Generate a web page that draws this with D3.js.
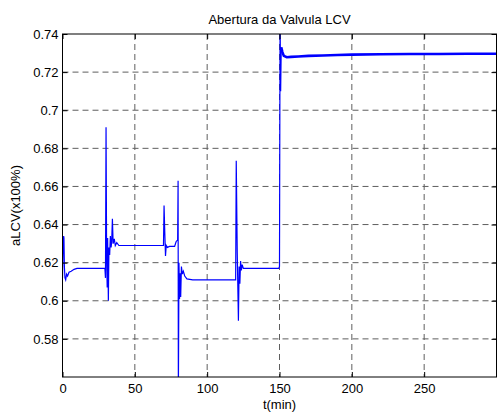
<!DOCTYPE html>
<html>
<head>
<meta charset="utf-8">
<script src="https://cdn.jsdelivr.net/npm/d3@7"></script>
<style>
  body { margin: 0; background: #fff; }
  text { font-family: Arial, "Liberation Sans", sans-serif; font-size: 13px; fill: #000; }
</style>
</head>
<body>
<div id="chart"></div>
<script>
// tick values
var xTicks = [0, 50, 100, 150, 200, 250];
var yTicks = [0.58, 0.6, 0.62, 0.64, 0.66, 0.68, 0.7, 0.72, 0.74];

// transient part of the valve opening (t in min, aLCV)
var tTransient = [0, 0.4, 0.8, 1.0, 1.3, 1.7, 2.2, 2.8, 3.5, 4.5, 6, 8, 10, 20, 29.3,
  29.7, 30.1, 30.5, 30.9, 31.2, 31.7, 32.1, 32.6, 33.1, 33.6, 34.0, 34.5, 35.0, 35.8, 36.5, 37.5, 39, 69.8,
  70.2, 70.7, 71.2, 71.7, 72.5, 74, 77.5, 78.5, 79.6, 79.9, 80.1, 80.5, 80.9, 81.3, 81.7, 82.2, 82.8, 83.5, 84.5, 86, 90, 119.7,
  120.1, 120.8, 121.2, 121.6, 122.1, 122.6, 123.1, 123.6, 124.2, 125, 130, 149.5,
  150.0, 150.4, 150.8, 151.2];
var aTransient = [0.612, 0.628, 0.634, 0.633, 0.618, 0.612, 0.611, 0.614, 0.613, 0.615, 0.6155, 0.6165, 0.617, 0.617, 0.617,
  0.612, 0.691, 0.622, 0.607, 0.633, 0.600, 0.628, 0.624, 0.634, 0.628, 0.631, 0.643, 0.630, 0.6325, 0.629, 0.6305, 0.629, 0.629,
  0.650, 0.636, 0.6235, 0.629, 0.628, 0.6285, 0.6285, 0.631, 0.632, 0.663, 0.55, 0.62, 0.601, 0.6145, 0.602, 0.618, 0.614, 0.6155, 0.613, 0.6115, 0.611, 0.611,
  0.6735, 0.625, 0.607, 0.5895, 0.618, 0.609, 0.6208, 0.616, 0.619, 0.617, 0.617, 0.617,
  0.618, 0.75, 0.71, 0.733];

// steady part after the last step
var tSteady = [151.2, 152, 153, 155, 158, 163, 170, 180, 190, 200, 220, 240, 260, 280, 300];
var aSteady = [0.733, 0.7305, 0.7285, 0.7278, 0.728, 0.7282, 0.7285, 0.7287, 0.729, 0.7292, 0.7294, 0.7295, 0.7295, 0.7296, 0.7296];

// svg dimensions and margins
var svgWidth = 498;
var svgHeight = 414;
var margin = { top: 34, right: 1.5, bottom: 37, left: 62.5 };
var width = svgWidth - margin.left - margin.right;
var height = svgHeight - margin.top - margin.bottom;

var svg = d3.select("#chart")
  .append("svg")
  .attr("width", svgWidth)
  .attr("height", svgHeight);

var chartGroup = svg.append("g")
  .attr("transform", `translate(${margin.left}, ${margin.top})`);

// scales
var xScale = d3.scaleLinear().domain([0, 300]).range([0, width]);
var yScale = d3.scaleLinear().domain([0.56, 0.74]).range([height, 0]);

// dashed grid
chartGroup.append("g")
  .selectAll("line")
  .data(xTicks.slice(1))
  .enter()
  .append("line")
  .attr("x1", d => xScale(d)).attr("x2", d => xScale(d))
  .attr("y1", 0).attr("y2", height)
  .attr("stroke", "#5e5e5e")
  .attr("stroke-dasharray", "6,4");

chartGroup.append("g")
  .selectAll("line")
  .data(yTicks.filter(d => d < 0.739))
  .enter()
  .append("line")
  .attr("x1", 0).attr("x2", width)
  .attr("y1", d => yScale(d)).attr("y2", d => yScale(d))
  .attr("stroke", "#5e5e5e")
  .attr("stroke-dasharray", "6,4");

// clip for the line
chartGroup.append("clipPath")
  .attr("id", "plotClip")
  .append("rect")
  .attr("width", width)
  .attr("height", height);

var line = d3.line()
  .x(d => xScale(d[0]))
  .y(d => yScale(d[1]));

chartGroup.append("path")
  .datum(d3.zip(tTransient, aTransient))
  .attr("clip-path", "url(#plotClip)")
  .attr("fill", "none")
  .attr("stroke", "#0000ff")
  .attr("stroke-width", 1.2)
  .attr("d", line);

chartGroup.append("path")
  .datum(d3.zip(tSteady, aSteady))
  .attr("clip-path", "url(#plotClip)")
  .attr("fill", "none")
  .attr("stroke", "#0000ff")
  .attr("stroke-width", 2.6)
  .attr("d", line);

// axes with inward ticks on all four sides
var fmt = d => String(+d.toFixed(2));

chartGroup.append("g")
  .attr("transform", `translate(0, ${height})`)
  .call(d3.axisBottom(xScale).tickValues(xTicks).tickSize(-5).tickPadding(7).tickFormat(fmt));

chartGroup.append("g")
  .call(d3.axisTop(xScale).tickValues(xTicks).tickSize(-5).tickFormat(""));

chartGroup.append("g")
  .call(d3.axisLeft(yScale).tickValues(yTicks).tickSize(-5).tickPadding(4).tickFormat(fmt));

chartGroup.append("g")
  .attr("transform", `translate(${width}, 0)`)
  .call(d3.axisRight(yScale).tickValues(yTicks).tickSize(-5).tickFormat(""));

chartGroup.selectAll(".domain").remove();
chartGroup.selectAll(".tick line").attr("stroke", "#000");
chartGroup.selectAll(".tick text")
  .style("font-family", "Arial, 'Liberation Sans', sans-serif")
  .style("font-size", "13px")
  .attr("fill", "#000");

// box
chartGroup.append("rect")
  .attr("width", width)
  .attr("height", height)
  .attr("fill", "none")
  .attr("stroke", "#000")
  .attr("stroke-width", 1);

// title and axis labels
chartGroup.append("text")
  .attr("x", width / 2)
  .attr("y", -10)
  .attr("text-anchor", "middle")
  .text("Abertura da Valvula LCV");

chartGroup.append("text")
  .attr("x", width / 2)
  .attr("y", height + 32)
  .attr("text-anchor", "middle")
  .text("t(min)");

chartGroup.append("text")
  .attr("transform", "rotate(-90)")
  .attr("x", -height / 2)
  .attr("y", -43)
  .attr("text-anchor", "middle")
  .text("aLCV(x100%)");
</script>
</body>
</html>
